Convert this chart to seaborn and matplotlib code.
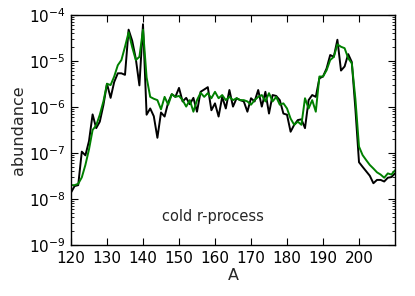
import numpy as np
import pandas as pd
import matplotlib
matplotlib.use("Agg")
import matplotlib.pyplot as plt
import seaborn as sns
from matplotlib.ticker import LogLocator, FixedLocator

mass_number = list(range(120, 211))

abundance_black = [
    1.38e-8, 1.91e-8, 2.0e-8, 1.07e-7, 8.9e-8, 1.82e-7, 6.9e-7, 3.47e-7, 4.8e-7, 1.1e-6,
    3.2e-6, 1.58e-6, 3.5e-6, 5.4e-6, 5.4e-6, 5.0e-6, 4.8e-5, 2.75e-5, 1.12e-5, 2.95e-6,
    6.3e-5, 6.8e-7, 9.3e-7, 6.3e-7, 2.14e-7, 7.6e-7, 6.2e-7, 1.26e-6, 1.9e-6, 1.66e-6,
    2.6e-6, 1.32e-6, 1.58e-6, 1.15e-6, 1.58e-6, 7.9e-7, 2.14e-6, 2.4e-6, 2.7e-6, 8.5e-7,
    1.2e-6, 6.2e-7, 1.66e-6, 9.3e-7, 2.34e-6, 1.02e-6, 1.55e-6, 1.41e-6, 1.32e-6, 7.9e-7,
    1.55e-6, 1.32e-6, 2.34e-6, 1.02e-6, 2.14e-6, 7.2e-7, 1.82e-6, 1.74e-6, 1.41e-6, 7.2e-7,
    6.8e-7, 2.9e-7, 4.1e-7, 5.2e-7, 5.4e-7, 3.47e-7, 1.41e-6, 1.82e-6, 1.66e-6, 4.2e-6,
    4.6e-6, 6.9e-6, 1.35e-5, 1.23e-5, 2.9e-5, 6.2e-6, 7.6e-6, 1.41e-5, 9.5e-6, 9.0e-7,
    6.3e-8, 5.0e-8, 4.0e-8, 3.2e-8, 2.2e-8, 2.6e-8, 2.6e-8, 2.4e-8, 2.9e-8, 3.0e-8,
    3.6e-8,
]

abundance_green = [
    2.0e-8, 2.0e-8, 2.14e-8, 2.95e-8, 5.5e-8, 1.2e-7, 3.16e-7, 4.0e-7, 6.8e-7, 1.32e-6,
    3.2e-6, 3.0e-6, 4.6e-6, 8.1e-6, 1.05e-5, 2.04e-5, 4.2e-5, 2.0e-5, 1.05e-5, 1.23e-5,
    4.8e-5, 4.4e-6, 1.66e-6, 1.51e-6, 1.41e-6, 8.9e-7, 1.66e-6, 1.12e-6, 1.9e-6, 1.66e-6,
    1.74e-6, 1.41e-6, 1.02e-6, 1.41e-6, 7.9e-7, 1.41e-6, 2.04e-6, 1.66e-6, 2.0e-6, 1.55e-6,
    2.14e-6, 1.55e-6, 1.82e-6, 1.41e-6, 1.66e-6, 1.41e-6, 1.55e-6, 1.41e-6, 1.41e-6, 1.32e-6,
    1.12e-6, 1.41e-6, 1.66e-6, 1.82e-6, 1.32e-6, 2.0e-6, 1.32e-6, 1.66e-6, 1.12e-6, 1.2e-6,
    9.3e-7, 5.6e-7, 4.1e-7, 4.8e-7, 4.1e-7, 1.55e-6, 9.3e-7, 1.41e-6, 7.9e-7, 4.6e-6,
    4.6e-6, 6.3e-6, 1.05e-5, 1.23e-5, 2.3e-5, 2.04e-5, 1.9e-5, 1.15e-5, 8.9e-6, 1.5e-6,
    1.38e-7, 9.0e-8, 7.0e-8, 5.5e-8, 4.6e-8, 3.8e-8, 3.4e-8, 2.9e-8, 3.6e-8, 3.4e-8,
    4.2e-8,
]

x_ticks = [120, 130, 140, 150, 160, 170, 180, 190, 200]
series_names = ["black", "green"]
annotation = "cold r-process"

df = pd.DataFrame({
    "A": mass_number * 2,
    "abundance": abundance_black + abundance_green,
    "series": [series_names[0]] * len(mass_number) + [series_names[1]] * len(mass_number),
})

sns.set_style("ticks")
plt.rcParams["font.family"] = ["DejaVu Sans"]
plt.rcParams.update({
    "xtick.direction": "in", "ytick.direction": "in",
    "xtick.top": True, "ytick.right": True,
    "xtick.major.size": 5, "ytick.major.size": 5,
    "ytick.minor.size": 2.5, "xtick.minor.size": 2.5,
    "axes.linewidth": 1.0, "axes.edgecolor": "black",
    "xtick.color": "black", "ytick.color": "black",
})

fig = plt.figure(figsize=(4.15, 2.96), dpi=100)
ax = fig.add_axes([71 / 415, 1 - 245 / 296, (395 - 71) / 415, (245 - 15) / 296])

sns.lineplot(data=df, x="A", y="abundance", hue="series",
             palette={"black": "black", "green": "#008000"},
             linewidth=1.4, legend=False, ax=ax, estimator=None)

ax.set_yscale("log")
ax.set_ylim(1e-9, 1e-4)
ax.set_xlim(120, 210)
ax.xaxis.set_major_locator(FixedLocator(x_ticks))
ax.yaxis.set_major_locator(LogLocator(base=10, numticks=10))
ax.yaxis.set_minor_locator(LogLocator(base=10, subs=np.arange(2, 10), numticks=10))
ax.tick_params(axis="both", which="major", labelsize=11, pad=4)
ax.tick_params(axis="both", which="both", direction="in", top=True, right=True)
ax.set_xlabel("A", fontsize=11.5, labelpad=2)
ax.set_ylabel("abundance", fontsize=11.5, labelpad=2)
ax.text(145.3, 10 ** -8.37, annotation, fontsize=10.5, va="center", ha="left")
for s in ax.spines.values():
    s.set_visible(True)

fig.savefig("out.png", dpi=100)
